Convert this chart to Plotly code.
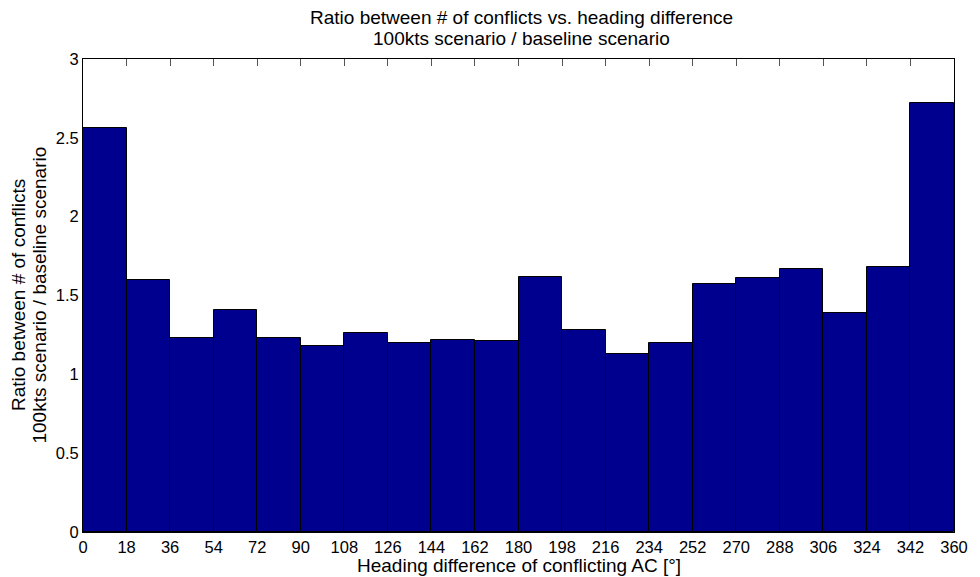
import plotly.graph_objects as go

# heading difference bins (deg), 18 deg wide
bin_start = [0, 18, 36, 54, 72, 90, 108, 126, 144, 162,
             180, 198, 216, 234, 252, 270, 288, 306, 324, 342]
bin_width = 18
ratio = [2.56, 1.60, 1.23, 1.41, 1.23, 1.18, 1.26, 1.20, 1.22, 1.21,
         1.62, 1.28, 1.13, 1.20, 1.57, 1.61, 1.67, 1.39, 1.68, 2.72]

x_ticks = list(range(0, 361, 18))
y_ticks = [0, 0.5, 1, 1.5, 2, 2.5, 3]
y_tick_text = ["0", "0.5", "1", "1.5", "2", "2.5", "3"]

title_lines = ["Ratio between # of conflicts vs. heading difference",
               "100kts scenario / baseline scenario"]
ylabel_lines = ["Ratio between # of conflicts",
                "100kts scenario / baseline scenario"]
xlabel = "Heading difference of conflicting AC [°]"

font = "Liberation Sans, Arial, Helvetica, sans-serif"

fig = go.Figure()
fig.add_trace(go.Bar(
    x=bin_start, y=ratio,
    width=bin_width, offset=0,
    marker=dict(color="#00008F", line=dict(color="black", width=1)),
))

# page body has an 8px margin, so the figure is placed to allow for it
fig.update_layout(
    width=972, height=569,
    margin=dict(l=75, r=17, t=51, b=45),
    paper_bgcolor="white", plot_bgcolor="white",
    font=dict(family=font, size=16.5, color="black"),
    showlegend=False,
    bargap=0,
)

# title, two lines
fig.add_annotation(text=title_lines[0], xref="paper", yref="paper",
                   x=0.503, y=1.087, showarrow=False,
                   xanchor="center", yanchor="middle", font=dict(size=19))
fig.add_annotation(text=title_lines[1], xref="paper", yref="paper",
                   x=0.503, y=1.044, showarrow=False,
                   xanchor="center", yanchor="middle", font=dict(size=19))
# x label
fig.add_annotation(text=xlabel, xref="paper", yref="paper",
                   x=0.501, y=-0.07, showarrow=False,
                   xanchor="center", yanchor="middle", font=dict(size=19))
# y label, two lines
fig.add_annotation(text=ylabel_lines[0], xref="paper", yref="paper",
                   x=-0.074, y=0.5, showarrow=False, textangle=-90,
                   xanchor="center", yanchor="middle", font=dict(size=19))
fig.add_annotation(text=ylabel_lines[1], xref="paper", yref="paper",
                   x=-0.0505, y=0.5, showarrow=False, textangle=-90,
                   xanchor="center", yanchor="middle", font=dict(size=19))

fig.update_xaxes(
    range=[0, 360], tickvals=x_ticks,
    ticks="inside", ticklen=7, tickcolor="#555",
    showline=True, linecolor="black", linewidth=1, mirror="ticks",
    showgrid=False, zeroline=False, layer="below traces",
    tickfont=dict(size=16.5),
)
fig.update_yaxes(
    range=[0, 3], tickvals=y_ticks, ticktext=y_tick_text,
    ticks="inside", ticklen=7, tickcolor="#555",
    showline=True, linecolor="black", linewidth=1, mirror="ticks",
    showgrid=False, zeroline=False, layer="below traces",
    tickfont=dict(size=16.5),
)

fig.write_html("out.html")
